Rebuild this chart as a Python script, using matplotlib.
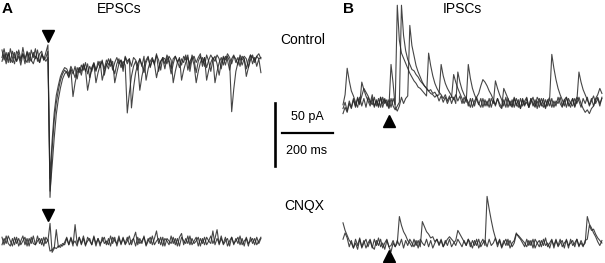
import numpy as np
import matplotlib
matplotlib.use("Agg")
import matplotlib.pyplot as plt
from matplotlib.lines import Line2D

plt.rcParams['font.family'] = ['Liberation Sans', 'DejaVu Sans']

# ---------------- data (pA, sampled every 8 ms, 0 = pre-stimulus baseline) ----------------
DT_MS = 8
STIM_MS = 176

epsc_control_1 = [4,-4,2,-6,5,-2,-7,3,0,-5,6,-3,2,-6,4,-2,5,-5,1,3,-4,2,
                  8,
                  -113,-75,-52,-38,-28,-20,-15,-12,
                  -14,-18,-12,
                  -33,-22,-14,
                  -10,-16,-8,-13,-7,-18,-10,-6,-12,-8,-5,
                  -20,-13,-7,
                  -11,-4,-9,-15,-7,-3,-10,-5,-8,
                  -46,-30,-17,-9,
                  -5,-12,-3,-8,-14,-6,-2,-9,-4,-7,
                  -18,-10,-5,
                  -3,-11,-2,-6,-15,-7,-1,-5,-10,-3,-6,0,-12,-5,-2,-8,
                  -22,-13,-6,
                  -2,-9,0,-5,-13,-4,-1,-7,-16,-6,-2,-8,-1,-5,
                  -45,-27,-13,-6,
                  -2,-8,-3,-11,-4,0,-7,-2,-9,-3,
                  -14]
epsc_control_2 = [-2,5,-4,1,-6,3,-2,-5,4,-3,1,-7,3,-2,-5,2,-3,4,-6,0,-2,-5,
                  -2,
                  -108,-88,-66,-47,-35,-26,-19,-15,
                  -13,-17,-11,-15,-9,-19,-10,-13,-7,-12,
                  -28,-19,-11,
                  -7,-13,-5,-10,-4,-16,-8,-3,-9,-5,
                  -22,-14,-7,
                  -4,-10,-2,-7,-3,
                  -42,-26,-14,-7,
                  -3,-9,-1,
                  -20,-11,-5,
                  -2,-8,1,-13,-5,-2,-7,0,-4,-11,-3,-1,-6,-2,
                  -20,-12,-6,
                  -2,-9,0,-4,-14,-5,-1,-6,-2,-10,-4,0,-3,
                  -22,-13,-6,
                  -2,-8,-1,-4,-12,-3,0,-6,-2,-9,-1,-3,
                  -17,-10,-4,
                  0,-6,-1,-3,-2]
epsc_control_3 = [-5,1,-7,2,-3,-6,2,-5,-1,-8,1,-3,-6,2,-4,-7,-1,-3,-6,1,-4,-2,
                  3,
                  -98,-68,-46,-32,-24,-17,-13,-10,
                  -11,-15,-9,-13,-18,-10,-14,-8,-12,-6,-15,-9,-13,-7,
                  -22,-14,-8,
                  -5,-11,-4,-8,-3,-12,-6,-2,-7,-4,-13,-1,-5,-3,-9,-2,-4,-8,
                  -28,-17,-9,
                  -4,-1,-10,-3,-6,0,-4,-12,-2,-3,-7,-1,-4,
                  -22,-13,-6,
                  -3,-8,-1,-4,0,-13,-3,-1,-6,-2,1,-9,-2,
                  -20,-12,-6,
                  -2,-5,0,-3,-11,-1,-4,1,-2,-7,-1,-3,-8,0,-4,-1,-3,-10,0,-2,-4,-1,1,-3]

epsc_cnqx_1 = [3,-3,4,-2,-4,2,-3,3,-4,0,4,-3,2,-4,3,-2,-3,4,-2,2,-4,3,
               0,
               14,-9,-6,9,-5,-3,-4,-1,
               3,-3,2,-4,
               13,
               -2,3,-3,2,-4,3,0,-3,4,-2,2,-4,3,-2,0,-3,4,-2,3,-4,2,-2,3,-3,0,4,-3,2,
               7,
               -3,2,-2,4,-4,0,3,-3,2,
               8,
               -2,3,-4,2,0,-3,4,-2,2,-4,3,
               6,
               -3,2,-2,4,-3,0,3,-4,2,-2,3,-3,0,4,-2,2,
               9,
               -3,2,-2,3,-4,0,3,-3,2,-2,4,-3,0,2,-4,3,-2,2,-3,0,3]
epsc_cnqx_2 = [-3,2,-2,4,0,-4,3,-2,2,-3,0,3,-4,2,-2,4,-3,0,2,-3,3,-2,
               1,
               -8,-7,-5,-6,-4,-5,-2,-3,
               2,-3,3,-2,0,-4,3,-2,4,-3,
               0,2,-3,3,-4,2,-2,0,3,-3,
               2,-4,3,0,-2,4,-3,2,-2,3,
               -3,0,2,-4,3,-2,0,3,-3,2,
               -2,4,-3,0,2,-3,3,-4,2,0,
               -2,3,-3,2,-4,3,0,-2,4,-3,
               2,-2,0,3,-4,2,-3,3,0,-2,
               8,-3,2,-2,4,-3,0,2,-4,3,
               -2,0,3,-3,2,-4,3,-2,0,2,
               -3,3,-2,2]

ipsc_control_1 = [-3,5,26,16,8,4,-1,-5,3,-4,2,-5,3,-2,5,-4,0,-5,3,-2,2,-4,1,
                  -5,2,-3,
                  76,48,38,34,30,26,22,19,16,14,11,10,8,6,4,
                  38,28,20,14,10,7,5,2,5,0,4,-2,3,
                  -2,23,15,9,5,2,-1,-5,2,-4,3,-2,-5,2,-4,0,-5,2,
                  -2,16,10,5,1,-4,3,-5,0,-4,3,-2,-5,2,-4,0,3,-5,2,-2,-5,3,0,-4,2,-5,0,3,
                  37,26,17,10,5,1,-4,3,-2,-5,2,-4,3,0,-5,2,-2,3,-4,0,4,-2,2,-4,3]
ipsc_control_2 = [-10,-5,-9,-2,-6,1,-5,2,-3,15,9,4,0,-4,2,-5,1,-4,3,-5,1,-2,-6,2,-4,-7,-4,-1,
                  76,52,40,33,29,25,24,21,19,16,14,12,10,8,9,6,7,4,5,
                  29,20,14,10,7,4,1,5,0,4,-2,3,-1,
                  29,18,10,5,1,-3,2,-5,1,-4,2,-5,1,-4,2,-2,-5,
                  10,6,2,-2,-5,2,-4,1,-6,2,-3,-1,-5,2,-4,1,-6,2,-2,-5,1,-4,2,-5,0,-4,3,-2,-5,1,3,-4,-1,2,-5,0,
                  23,15,9,5,1,-3,2,-4,1,3,-2,2]
ipsc_control_3 = [-6,-1,-8,0,-5,2,-4,3,-2,4,10,7,4,0,-3,3,-4,2,-5,3,-2,1,-5,
                  29,14,-5,-8,-4,3,-2,2,4,
                  60,44,36,28,23,19,15,12,10,8,6,5,3,5,0,4,-1,3,-2,2,
                  3,21,15,10,6,2,-2,3,-4,2,-5,0,3,6,12,
                  17,15,12,8,5,1,-3,2,-4,-6,1,-5,2,-4,1,-5,2,-2,-6,1,-4,2,-5,-1,3,-4,0,-5,2,-2,
                  -6,1,-4,2,-5,0,-2,3,-4,1,-5,2,-2,-4,2,-2,3,-2,-6,
                  -9,-7,-10,-6,-4,2,5,10,6]

ipsc_cnqx_1 = [16,10,6,2,0,-4,3,-2,4,-4,0,3,-3,2,-4,3,-2,4,-3,0,-5,2,-3,-2,2,-3,0,
               21,14,9,6,2,0,-3,3,-2,2,-3,
               17,13,9,7,4,5,1,3,-1,3,-3,2,-2,3,-3,0,2,
               10,7,4,1,-2,3,-3,2,-2,3,-4,0,3,-2,
               37,27,18,10,4,-1,3,-3,2,-2,3,-4,0,2,
               8,5,3,0,-3,3,-2,2,-4,3,0,-3,2,-2,4,-3,0,3,-4,2,-2,3,-3,0,2,-4,3,-2,0,3,-3,2,-2,0,
               21,15,12,8,5,1,-2,2]
ipsc_cnqx_2 = [3,8,4,-3,2,-4,0,-5,3,-3,2,-4,0,3,-3,-5,2,-2,3,-4,0,3,-3,-7,0,-3,2,-2,3,-4,
               2,-2,3,0,-3,2,-4,3,0,-2,3,-3,2,-4,0,3,-2,2,-3,0,3,5,3,1,-2,3,0,-3,2,-2,
               3,0,-4,2,-2,3,-3,0,2,-3,3,-2,0,4,-3,2,-4,0,3,-2,2,-3,0,7,6,4,2,0,-3,2,
               -2,3,-4,0,2,-3,3,-2,0,-4,2,-2,3,-3,0,2,-4,3,-2,0,2,-3,3,-2,0,-3,2,3,
               14,10,11,7,4,2,0]

# ---------------- layout ----------------
W, H = 605, 263
PX_PER_PA = 1.26      # 50 pA scale bar = 63 px
PX_PER_MS = 0.261     # 200 ms scale bar = 52 px
SPAN_MS = 1000

fig = plt.figure(figsize=(W / 100, H / 100), dpi=100)
fig.patch.set_facecolor('white')


def panel(left_px, top_px, bottom_px, base_px):
    ax = fig.add_axes([left_px / W, 1 - bottom_px / H,
                       SPAN_MS * PX_PER_MS / W, (bottom_px - top_px) / H])
    ax.set_xlim(0, SPAN_MS)
    ax.set_ylim(-(bottom_px - base_px) / PX_PER_PA, (base_px - top_px) / PX_PER_PA)
    ax.axis('off')
    return ax


def draw(ax, sweeps):
    for s in sweeps:
        t = np.arange(len(s)) * DT_MS
        ax.plot(t, s, color='#262626', lw=0.8, alpha=0.85, clip_on=False)


axA1 = panel(2, 20, 205, 55)
axA2 = panel(2, 205, 260, 241)
axB1 = panel(343, 0, 130, 101)
axB2 = panel(343, 180, 262, 243)

draw(axA1, [epsc_control_1, epsc_control_2, epsc_control_3])
draw(axA2, [epsc_cnqx_1, epsc_cnqx_2])
draw(axB1, [ipsc_control_1, ipsc_control_2, ipsc_control_3])
draw(axB2, [ipsc_cnqx_1, ipsc_cnqx_2])

# stimulus markers
axA1.plot([STIM_MS], [(55 - 36) / PX_PER_PA], marker='v', ms=9, color='black', clip_on=False)
axA2.plot([STIM_MS], [(241 - 215) / PX_PER_PA], marker='v', ms=9, color='black', clip_on=False)
axB1.plot([STIM_MS], [(101 - 121) / PX_PER_PA], marker='^', ms=9, color='black', clip_on=False)
axB2.plot([STIM_MS], [(243 - 256) / PX_PER_PA], marker='^', ms=9, color='black', clip_on=False)


def fx(px):
    return px / W


def fy(py):
    return 1 - py / H


# scale bars
fig.add_artist(Line2D([fx(275), fx(275)], [fy(103), fy(166)], color='black', lw=1.9))
fig.add_artist(Line2D([fx(282), fx(333)], [fy(133), fy(133)], color='black', lw=1.6))
fig.text(fx(307), fy(117), '50 pA', ha='center', va='center', fontsize=9)
fig.text(fx(307), fy(151), '200 ms', ha='center', va='center', fontsize=9)

# labels
fig.text(fx(2), fy(9), 'A', ha='left', va='center', fontsize=11, fontweight='bold')
fig.text(fx(119), fy(9), 'EPSCs', ha='center', va='center', fontsize=10)
fig.text(fx(343), fy(9), 'B', ha='left', va='center', fontsize=11, fontweight='bold')
fig.text(fx(462), fy(9), 'IPSCs', ha='center', va='center', fontsize=10)
fig.text(fx(303), fy(40), 'Control', ha='center', va='center', fontsize=10)
fig.text(fx(304), fy(206), 'CNQX', ha='center', va='center', fontsize=10)

fig.savefig('out.png', dpi=100, facecolor='white')
